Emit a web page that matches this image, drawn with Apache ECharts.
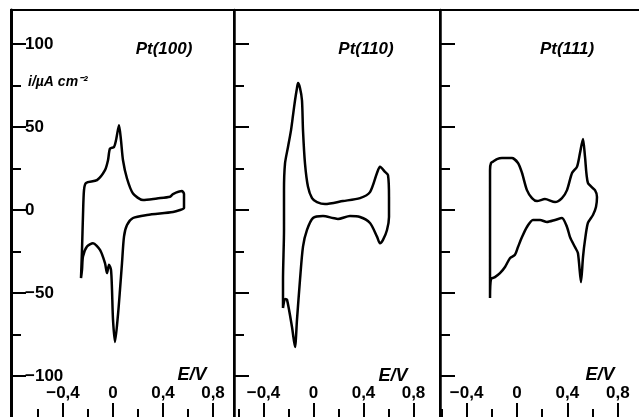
<!DOCTYPE html>
<html><head><meta charset="utf-8">
<script src="https://cdn.jsdelivr.net/npm/echarts@6/dist/echarts.min.js"></script>
<style>html,body{margin:0;padding:0;background:#fff}#c{width:639px;height:417px}</style>
</head><body><div id="c"></div>
<script>
// ---- data (E / V, i / µA cm^-2) ----
const pt100E = [-0.256,-0.248,-0.24,-0.232,-0.216,-0.128,-0.064,-0.04,-0.024,0.008,0.024,0.048,0.064,0.08,0.112,0.16,0.24,0.352,0.456,0.48,0.552,0.568,0.568,0.568,0.536,0.48,0.272,0.16,0.112,0.088,0.072,0.056,0.04,0.016,0,-0.008,-0.016,-0.032,-0.048,-0.064,-0.104,-0.16,-0.208,-0.24,-0.248,-0.256];
const pt100I = [-41,-24,-3,12,16.3,18,24,30,37,38,42,51,42,30,19,10,6,7,8,9.6,11.4,9.6,6,1.2,0,-1.2,-3,-4.8,-9,-16,-32,-48,-63,-79.5,-66,-48,-36,-33,-38,-32,-24,-20,-22,-28,-36,-41];
const pt110E = [-0.244,-0.244,-0.236,-0.236,-0.228,-0.204,-0.18,-0.164,-0.148,-0.132,-0.124,-0.108,-0.092,-0.084,-0.068,-0.044,-0.012,0.028,0.092,0.236,0.372,0.452,0.508,0.532,0.572,0.596,0.604,0.604,0.588,0.556,0.532,0.508,0.452,0.372,0.292,0.196,0.156,0.076,-0.004,-0.052,-0.084,-0.108,-0.132,-0.148,-0.172,-0.212,-0.228,-0.244];
const pt110I = [-59,-42,-12,12,28,38,48,57,66,73.5,76.5,73.5,66,48,28,14,7.2,4.8,3.6,5.4,7.2,10.8,22.3,26,23,21,7.8,-4.2,-12,-18,-20,-16,-7.8,-4.2,-3.6,-5.4,-4.8,-3.6,-4.8,-12,-22,-42,-66,-82.5,-70.5,-54,-53.6,-59];
const pt111E = [-0.214,-0.214,-0.214,-0.214,-0.214,-0.206,-0.183,-0.159,-0.119,-0.04,0.008,0.04,0.079,0.119,0.159,0.222,0.302,0.357,0.397,0.437,0.476,0.5,0.524,0.54,0.563,0.619,0.635,0.627,0.603,0.563,0.54,0.524,0.508,0.484,0.46,0.421,0.397,0.357,0.302,0.238,0.183,0.127,0.079,0.04,0.008,-0.016,-0.056,-0.095,-0.135,-0.175,-0.206,-0.214];
const pt111I = [-53,-42,-18,6,24,28.3,29.5,30.7,31.3,31.3,28.3,22.3,12,7.2,5.4,6.6,4.8,7.2,12,22.3,26,34.3,42.8,32,16.3,12,7.8,1.8,-3,-7.8,-18,-28.3,-43.4,-26,-22.3,-16.3,-10.2,-4.8,-6,-7.2,-6,-6,-10.2,-16.3,-22.3,-27,-29,-34.3,-38,-40.4,-41.6,-53];
const panelTitles = ['Pt(100)','Pt(110)','Pt(111)'];
const xMajorTicks = [-0.4,0,0.4,0.8];
const xMinorTicks = [-0.6,-0.2,0.2,0.6];
const yMajorTicks = [-100,-50,0,50,100];
const yMinorTicks = [-75,-25,25,75];
const yAxisTitle = 'i/µA cm⁻²';
const xAxisTitle = 'E/V';

// ---- layout ----
const FONT = '"Liberation Sans", Arial, sans-serif';
const grids = [
  {left:11, top:10, width:223, height:415, xmin:-0.816, xmax:0.968},
  {left:234, top:10, width:206, height:415, xmin:-0.636, xmax:1.012},
  {left:440, top:10, width:206, height:415, xmin:-0.611, xmax:1.024}
];
const yMin = -129.5, yMax = 120.5;
const dataE = [pt100E, pt110E, pt111E];
const dataI = [pt100I, pt110I, pt111I];

const option = {
  animation:false,
  backgroundColor:'#fff',
  grid: grids.map(g=>({left:g.left, top:g.top, width:g.width, height:g.height,
    outerBoundsMode:'none', containLabel:false,
    show:true, borderColor:'#000', borderWidth:2, backgroundColor:'transparent'})),
  xAxis: [], yAxis: [], series: [], graphic: []
};
const fmt = v => (v<0?'−':'') + String(Math.abs(v)).replace('.', ',');
grids.forEach((g,k)=>{
  option.xAxis.push({type:'value', gridIndex:k, min:g.xmin, max:g.xmax, position:'bottom',
    axisLine:{show:false, onZero:false}, splitLine:{show:false},
    axisTick:{show:true, inside:true, length:22, customValues:xMajorTicks, lineStyle:{color:'#000', width:2}},
    axisLabel:{show:true, inside:true, margin:23, customValues:xMajorTicks, formatter:fmt,
      color:'#000', fontFamily:FONT, fontSize:17, fontWeight:'bold'}});
  option.xAxis.push({type:'value', gridIndex:k, min:g.xmin, max:g.xmax, position:'bottom',
    axisLine:{show:false, onZero:false}, splitLine:{show:false},
    axisTick:{show:true, inside:true, length:16, customValues:xMinorTicks, lineStyle:{color:'#000', width:2}},
    axisLabel:{show:false}});
  option.yAxis.push({type:'value', gridIndex:k, min:yMin, max:yMax, position:'left',
    axisLine:{show:true, onZero:false, lineStyle:{color:'#000', width:k===0?3:2.5}}, splitLine:{show:false},
    axisTick:{show:true, inside:true, length:15, customValues:yMajorTicks, lineStyle:{color:'#000', width:2}},
    axisLabel:{show:k===0, inside:true, margin:14, customValues:yMajorTicks, formatter:fmt,
      color:'#000', fontFamily:FONT, fontSize:17, fontWeight:'bold', padding:[0,0,8,0]}});
  option.yAxis.push({type:'value', gridIndex:k, min:yMin, max:yMax, position:'left',
    axisLine:{show:false, onZero:false}, splitLine:{show:false},
    axisTick:{show:true, inside:true, length:10, customValues:yMinorTicks, lineStyle:{color:'#000', width:2}},
    axisLabel:{show:false}});
  option.series.push({type:'line', xAxisIndex:2*k, yAxisIndex:2*k, showSymbol:false, smooth:0.25,
    lineStyle:{color:'#000', width:2.5}, itemStyle:{color:'#000'},
    data: dataE[k].map((e,j)=>[e, dataI[k][j]])});
});
const titlePos = [[164,49],[366,49],[567,49]];
const evPos = [[192,375],[393,376],[600,375]];
titlePos.forEach((p,k)=>option.graphic.push({type:'text', x:p[0], y:p[1],
  style:{text:panelTitles[k], fill:'#000', font:'italic bold 17px '+FONT, textAlign:'center', textVerticalAlign:'middle'}}));
evPos.forEach(p=>option.graphic.push({type:'text', x:p[0], y:p[1],
  style:{text:xAxisTitle, fill:'#000', font:'italic bold 18px '+FONT, textAlign:'center', textVerticalAlign:'middle'}}));
option.graphic.push({type:'text', x:28, y:82,
  style:{text:yAxisTitle, fill:'#000', font:'italic bold 14px '+FONT, textAlign:'left', textVerticalAlign:'middle'}});

const chart = echarts.init(document.getElementById('c'), null, {renderer:'canvas'});
chart.setOption(option);
</script></body></html>
